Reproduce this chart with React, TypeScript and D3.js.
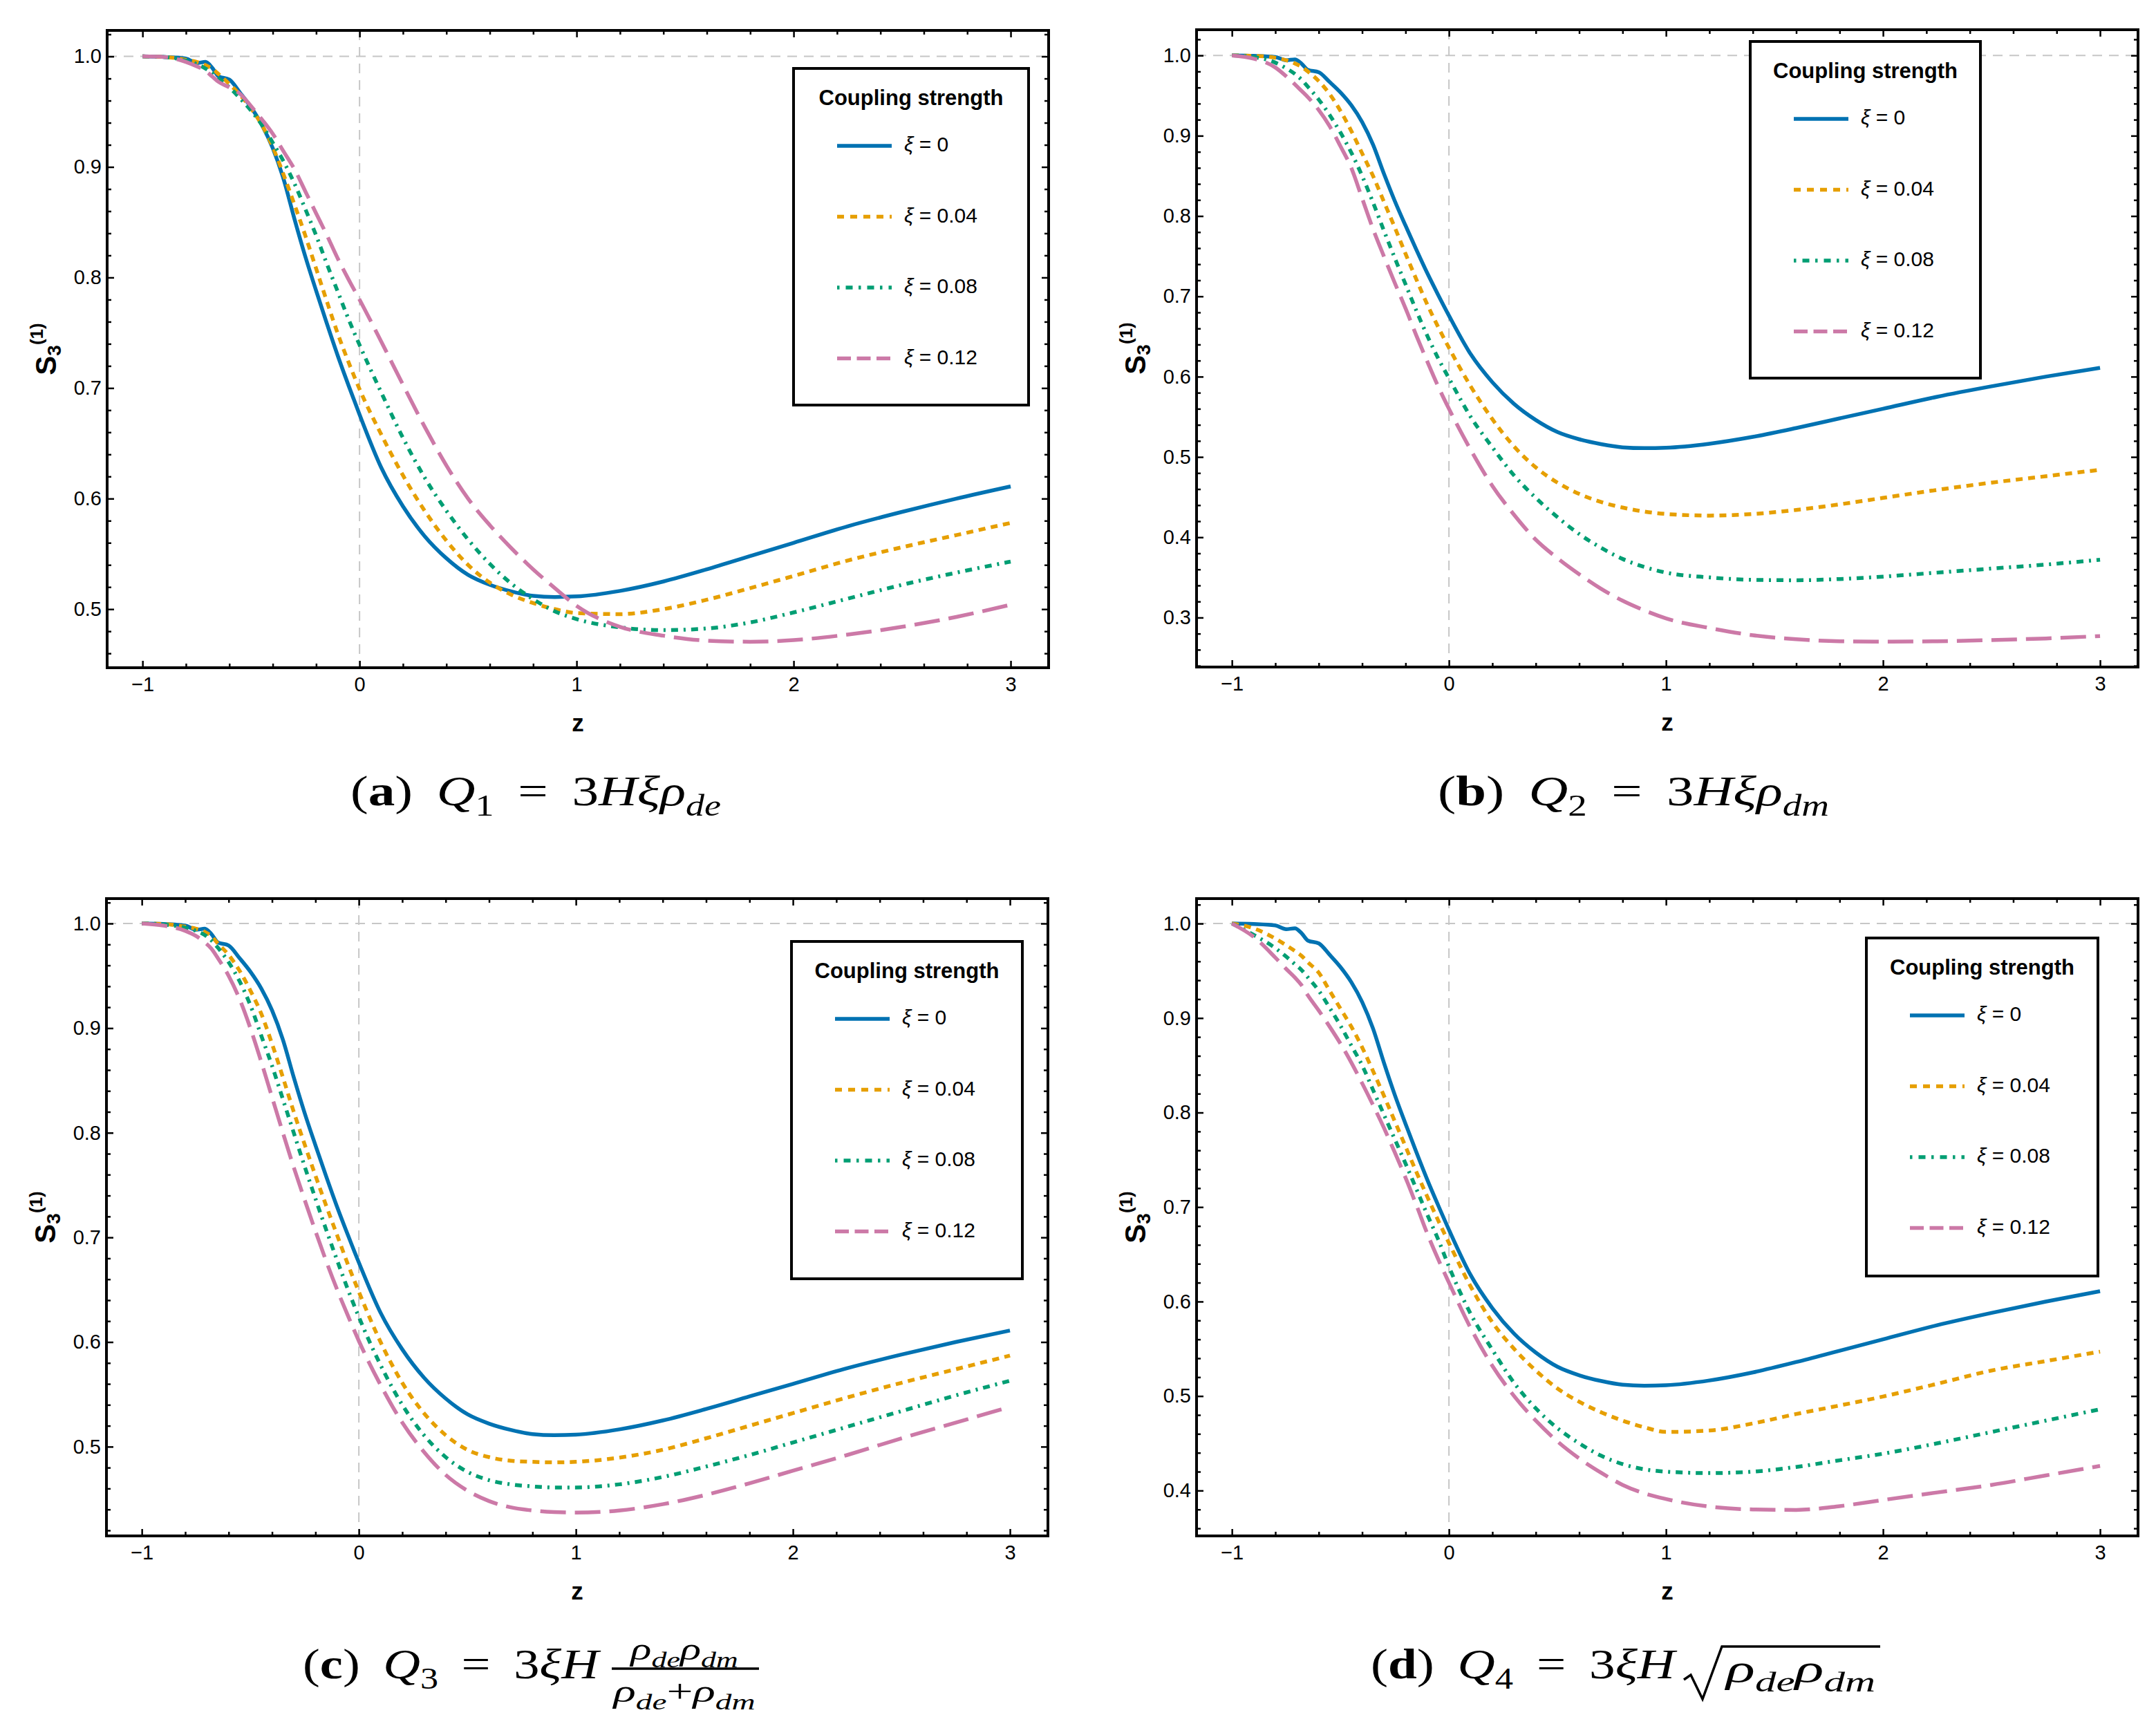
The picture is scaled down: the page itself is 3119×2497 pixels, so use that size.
import * as d3 from "d3";
import { useEffect, useRef } from "react";

// redshift samples shared by every curve
const zValues = [
  -1, -0.9, -0.8, -0.75, -0.71, -0.68, -0.65, -0.6, -0.55, -0.5,
  -0.45, -0.4, -0.35, -0.3, -0.25, -0.2, -0.15, -0.1, -0.05, 0,
  0.1, 0.2, 0.3, 0.4, 0.5, 0.6, 0.7, 0.8, 0.9, 1.0,
  1.2, 1.4, 1.6, 1.8, 2.0, 2.25, 2.5, 2.75, 3.0,
];

// xi = 0 (same in all four panels)
const s3Xi0 = [
  1.0, 0.9995, 0.998, 0.994, 0.995, 0.99, 0.982, 0.979, 0.967, 0.954,
  0.938, 0.917, 0.889, 0.853, 0.819, 0.788, 0.758, 0.729, 0.702, 0.676,
  0.628, 0.593, 0.566, 0.546, 0.531, 0.522, 0.516, 0.512, 0.511, 0.5115,
  0.5165, 0.525, 0.536, 0.548, 0.56, 0.575, 0.588, 0.6, 0.611,
];

// (a) Q1
const q1Xi004 = [
  1.0, 0.9995, 0.997, 0.995, 0.992, 0.989, 0.984, 0.975, 0.965, 0.953,
  0.938, 0.918, 0.893, 0.866, 0.838, 0.808, 0.778, 0.749, 0.723, 0.699,
  0.658, 0.621, 0.589, 0.562, 0.54, 0.524, 0.513, 0.5055, 0.5, 0.4965,
  0.4955, 0.5, 0.5085, 0.519, 0.53, 0.544, 0.556, 0.567, 0.578,
];
const q1Xi008 = [
  1.0, 0.9995, 0.996, 0.993, 0.989, 0.985, 0.98, 0.972, 0.962, 0.951,
  0.938, 0.922, 0.905, 0.885, 0.862, 0.838, 0.812, 0.787, 0.762, 0.739,
  0.696, 0.655, 0.619, 0.589, 0.563, 0.541, 0.523, 0.509, 0.498, 0.491,
  0.4835, 0.481, 0.4825, 0.488, 0.497, 0.5095, 0.522, 0.533, 0.543,
];
const q1Xi012 = [
  1.0, 0.9995, 0.995, 0.991, 0.987, 0.982, 0.977, 0.972, 0.966, 0.955,
  0.943, 0.93, 0.914, 0.898, 0.878, 0.858, 0.838, 0.817, 0.798, 0.78,
  0.742, 0.703, 0.665, 0.63, 0.6, 0.576, 0.555, 0.536, 0.519, 0.503,
  0.484, 0.476, 0.4715, 0.4705, 0.472, 0.477, 0.484, 0.493, 0.504,
];

// (b) Q2
const q2Xi004 = [
  1.0, 0.9995, 0.997, 0.994, 0.99, 0.986, 0.98, 0.968, 0.952, 0.931,
  0.906, 0.878, 0.85, 0.818, 0.786, 0.753, 0.721, 0.69, 0.662, 0.636,
  0.588, 0.547, 0.513, 0.487, 0.468, 0.454, 0.444, 0.437, 0.432, 0.429,
  0.427, 0.429, 0.434, 0.441, 0.449, 0.459, 0.468, 0.476, 0.484,
];
const q2Xi008 = [
  1.0, 0.998, 0.991, 0.984, 0.977, 0.97, 0.961, 0.945, 0.926, 0.904,
  0.879, 0.85, 0.817, 0.782, 0.748, 0.715, 0.682, 0.651, 0.623, 0.598,
  0.55, 0.512, 0.477, 0.449, 0.425, 0.404, 0.387, 0.373, 0.363, 0.356,
  0.35, 0.347, 0.3465, 0.348, 0.351, 0.356, 0.361, 0.366, 0.372,
];
const q2Xi012 = [
  1.0, 0.996, 0.985, 0.974, 0.964, 0.956, 0.948, 0.932, 0.912, 0.887,
  0.86, 0.822, 0.784, 0.75, 0.717, 0.685, 0.651, 0.619, 0.588, 0.56,
  0.509, 0.464, 0.428, 0.397, 0.374, 0.354, 0.336, 0.321, 0.309, 0.299,
  0.287, 0.278, 0.273, 0.2705, 0.27, 0.2705, 0.272, 0.274, 0.277,
];

// (c) Q3
const q3Xi004 = [
  1.0, 0.9995, 0.997, 0.995, 0.992, 0.988, 0.981, 0.97, 0.955, 0.936,
  0.914, 0.885, 0.853, 0.82, 0.789, 0.759, 0.73, 0.702, 0.674, 0.648,
  0.6, 0.561, 0.532, 0.511, 0.497, 0.49, 0.4865, 0.4855, 0.485, 0.4855,
  0.4895, 0.497, 0.508, 0.52, 0.532, 0.547, 0.561, 0.574, 0.587,
];
const q3Xi008 = [
  1.0, 0.999, 0.996, 0.993, 0.989, 0.984, 0.977, 0.963, 0.945, 0.922,
  0.893, 0.864, 0.832, 0.8, 0.768, 0.737, 0.707, 0.678, 0.65, 0.624,
  0.578, 0.54, 0.511, 0.49, 0.476, 0.468, 0.464, 0.462, 0.461, 0.461,
  0.464, 0.471, 0.481, 0.492, 0.504, 0.519, 0.534, 0.549, 0.563,
];
const q3Xi012 = [
  1.0, 0.998, 0.993, 0.988, 0.982, 0.976, 0.967, 0.95, 0.928, 0.9,
  0.868, 0.834, 0.8, 0.767, 0.736, 0.706, 0.677, 0.65, 0.625, 0.601,
  0.559, 0.523, 0.495, 0.473, 0.458, 0.448, 0.442, 0.439, 0.4375, 0.437,
  0.439, 0.445, 0.454, 0.465, 0.477, 0.492, 0.508, 0.523, 0.538,
];

// (d) Q4
const q4Xi004 = [
  1.0, 0.995, 0.984, 0.977, 0.971, 0.966, 0.959, 0.948, 0.929, 0.91,
  0.891, 0.869, 0.844, 0.818, 0.791, 0.764, 0.737, 0.711, 0.686, 0.662,
  0.616, 0.578, 0.55, 0.527, 0.508, 0.494, 0.483, 0.474, 0.467, 0.462,
  0.4635, 0.471, 0.481, 0.49, 0.4995, 0.513, 0.527, 0.537, 0.547,
];
const q4Xi008 = [
  1.0, 0.988, 0.974, 0.965, 0.957, 0.951, 0.943, 0.929, 0.911, 0.892,
  0.871, 0.85, 0.824, 0.798, 0.772, 0.746, 0.719, 0.692, 0.666, 0.637,
  0.587, 0.549, 0.514, 0.487, 0.466, 0.45, 0.437, 0.428, 0.4225, 0.42,
  0.4185, 0.42, 0.425, 0.432, 0.439, 0.45, 0.462, 0.474, 0.486,
];
const q4Xi012 = [
  1.0, 0.986, 0.964, 0.952, 0.943, 0.935, 0.924, 0.908, 0.891, 0.873,
  0.853, 0.831, 0.808, 0.784, 0.758, 0.731, 0.702, 0.672, 0.645, 0.62,
  0.572, 0.532, 0.5, 0.474, 0.452, 0.434, 0.419, 0.406, 0.397, 0.391,
  0.383, 0.38, 0.3795, 0.3835, 0.39, 0.398, 0.406, 0.416, 0.426,
];

const xiLabels = ["0", "0.04", "0.08", "0.12"];
const xTicks = [-1, 0, 1, 2, 3];
const yTicksQ1 = [0.5, 0.6, 0.7, 0.8, 0.9, 1.0];
const yTicksQ2 = [0.3, 0.4, 0.5, 0.6, 0.7, 0.8, 0.9, 1.0];
const yTicksQ3 = [0.5, 0.6, 0.7, 0.8, 0.9, 1.0];
const yTicksQ4 = [0.4, 0.5, 0.6, 0.7, 0.8, 0.9, 1.0];

const COLORS = ["#0072b2", "#e69f00", "#009e73", "#cc79a7"];
const PLOT_DASH = ["none", "10 8", "10 8 3 8", "37 13"];
const LEGEND_DASH = ["none", "10 9", "3.5 9 10 8.5", "20 8.5"];

const SANS = "'Liberation Sans', Arial, Helvetica, sans-serif";
const SERIF = "'Liberation Serif', 'Times New Roman', serif";

const WIDTH = 3119;
const HEIGHT = 2497;
const PW = 1362;
const PH = 922;
const X_DOMAIN: [number, number] = [-1.163, 3.175];

type Panel = {
  left: number;
  top: number;
  yDomain: [number, number];
  yTicks: number[];
  series: number[][];
  legend: { x: number; y: number; w: number; h: number };
};

const panels: Panel[] = [
  {
    left: 155, top: 44, yDomain: [0.447, 1.0235], yTicks: yTicksQ1,
    series: [s3Xi0, q1Xi004, q1Xi008, q1Xi012],
    legend: { x: 993, y: 55, w: 340, h: 487 },
  },
  {
    left: 1731, top: 43, yDomain: [0.2384, 1.032], yTicks: yTicksQ2,
    series: [s3Xi0, q2Xi004, q2Xi008, q2Xi012],
    legend: { x: 801, y: 17, w: 333, h: 487 },
  },
  {
    left: 154, top: 1300, yDomain: [0.4147, 1.0238], yTicks: yTicksQ3,
    series: [s3Xi0, q3Xi004, q3Xi008, q3Xi012],
    legend: { x: 991, y: 62, w: 334, h: 488 },
  },
  {
    left: 1731, top: 1300, yDomain: [0.352, 1.0264], yTicks: yTicksQ4,
    series: [s3Xi0, q4Xi004, q4Xi008, q4Xi012],
    legend: { x: 969, y: 57, w: 335, h: 489 },
  },
];

type Sel = d3.Selection<any, unknown, null, undefined>;

const styleAxis = (sel: Sel) => {
  sel.select(".domain").remove();
  sel.selectAll("line").attr("stroke", "#000").attr("stroke-width", 2.5);
  sel.attr("font-family", SANS).attr("font-size", 29);
  sel.selectAll("text").attr("fill", "#000");
};

const fmtX = (d: d3.NumberValue) => {
  const v = +d;
  return v < 0 ? `\u2212${Math.abs(v)}` : `${v}`;
};

function drawPanel(svg: Sel, p: Panel) {
  const x = d3.scaleLinear().domain(X_DOMAIN).range([0, PW]);
  const y = d3.scaleLinear().domain(p.yDomain).range([PH, 0]);
  const g = svg.append("g").attr("transform", `translate(${p.left},${p.top})`);

  // dashed reference lines at s=1 and z=0
  g.append("line")
    .attr("x1", 0).attr("x2", PW).attr("y1", y(1)).attr("y2", y(1))
    .attr("stroke", "#c6c6c6").attr("stroke-width", 2).attr("stroke-dasharray", "14 10");
  g.append("line")
    .attr("x1", x(0)).attr("x2", x(0)).attr("y1", 0).attr("y2", PH)
    .attr("stroke", "#c6c6c6").attr("stroke-width", 2).attr("stroke-dasharray", "14 10");

  const line = d3
    .line<number>()
    .x((_, i) => x(zValues[i]))
    .y((d) => y(d))
    .curve(d3.curveMonotoneX);

  p.series.forEach((vals, i) => {
    g.append("path")
      .attr("d", line(vals))
      .attr("fill", "none")
      .attr("stroke", COLORS[i])
      .attr("stroke-width", 5.5)
      .attr("stroke-dasharray", PLOT_DASH[i]);
  });

  // ticks, inward on all four sides
  const xMinor = d3.range(-5, 16).filter((i) => i % 5 !== 0).map((i) => i / 5);
  const [y0, y1] = p.yDomain;
  const yMinor = d3
    .range(Math.ceil(y0 * 50), Math.floor(y1 * 50) + 1)
    .filter((i) => i % 5 !== 0)
    .map((i) => i / 50);

  g.append("g").attr("transform", `translate(0,${PH})`)
    .call(d3.axisBottom(x).tickValues(xTicks).tickSize(-10).tickPadding(13).tickFormat(fmtX))
    .call(styleAxis);
  g.append("g").attr("transform", `translate(0,${PH})`)
    .call(d3.axisBottom(x).tickValues(xMinor).tickSize(-6).tickFormat(() => ""))
    .call(styleAxis);
  g.append("g")
    .call(d3.axisTop(x).tickValues(xTicks).tickSize(-10).tickFormat(() => ""))
    .call(styleAxis);
  g.append("g")
    .call(d3.axisTop(x).tickValues(xMinor).tickSize(-6).tickFormat(() => ""))
    .call(styleAxis);

  g.append("g")
    .call(d3.axisLeft(y).tickValues(p.yTicks).tickSize(-10).tickPadding(8).tickFormat(d3.format(".1f")))
    .call(styleAxis);
  g.append("g")
    .call(d3.axisLeft(y).tickValues(yMinor).tickSize(-6).tickFormat(() => ""))
    .call(styleAxis);
  g.append("g").attr("transform", `translate(${PW},0)`)
    .call(d3.axisRight(y).tickValues(p.yTicks).tickSize(-10).tickFormat(() => ""))
    .call(styleAxis);
  g.append("g").attr("transform", `translate(${PW},0)`)
    .call(d3.axisRight(y).tickValues(yMinor).tickSize(-6).tickFormat(() => ""))
    .call(styleAxis);

  g.append("rect")
    .attr("width", PW).attr("height", PH)
    .attr("fill", "none").attr("stroke", "#000").attr("stroke-width", 4);

  // axis titles
  g.append("text")
    .attr("x", PW / 2).attr("y", PH + 92)
    .attr("text-anchor", "middle")
    .attr("font-family", SANS).attr("font-weight", "bold").attr("font-size", 35)
    .text("z");

  const yl = g.append("text")
    .attr("transform", `translate(-74,${PH / 2}) rotate(-90)`)
    .attr("text-anchor", "middle")
    .attr("font-family", SANS).attr("font-weight", "bold");
  yl.append("tspan").attr("font-size", 42).text("S");
  yl.append("tspan").attr("font-size", 28).attr("dy", 7).text("3");
  yl.append("tspan").attr("font-size", 26).attr("dy", -26).text("(1)");

  // legend
  const lg = g.append("g").attr("transform", `translate(${p.legend.x},${p.legend.y})`);
  lg.append("rect")
    .attr("width", p.legend.w).attr("height", p.legend.h)
    .attr("fill", "#fff").attr("stroke", "#000").attr("stroke-width", 4);
  lg.append("text")
    .attr("x", p.legend.w / 2).attr("y", 53)
    .attr("text-anchor", "middle")
    .attr("font-family", SANS).attr("font-weight", "bold").attr("font-size", 31)
    .text("Coupling strength");
  xiLabels.forEach((lab, i) => {
    const yy = 112 + i * 102.5;
    lg.append("line")
      .attr("x1", 63).attr("x2", 142).attr("y1", yy).attr("y2", yy)
      .attr("stroke", COLORS[i]).attr("stroke-width", 5.5)
      .attr("stroke-dasharray", LEGEND_DASH[i]);
    const t = lg.append("text")
      .attr("x", 160).attr("y", yy + 8)
      .attr("font-family", SANS).attr("font-size", 30)
      .style("white-space", "pre");
    t.append("tspan").attr("font-style", "italic").text("\u03be");
    t.append("tspan").text(` = ${lab}`);
  });
}

// [text, flags] : b bold, i italic, s subscript
type Piece = [string, string];

// typeset a formula, then stretch it horizontally to the width it has in the figure
function mathText(
  svg: Sel, x: number, y: number, anchor: string, width: number, fs: number, pieces: Piece[],
) {
  const wrap = svg.append("g");
  const t = wrap.append("text")
    .attr("x", 0).attr("y", 0)
    .attr("text-anchor", anchor)
    .attr("font-family", SERIF).attr("font-size", fs)
    .style("white-space", "pre");
  let shift = 0;
  pieces.forEach(([txt, f]) => {
    const sub = f.includes("s");
    const target = sub ? fs * 0.24 : 0;
    t.append("tspan")
      .attr("dy", target - shift)
      .attr("font-size", sub ? fs * 0.7 : fs)
      .attr("font-style", f.includes("i") ? "italic" : "normal")
      .attr("font-weight", f.includes("b") ? "bold" : "normal")
      .text(txt);
    shift = target;
  });
  const natural = (t.node() as SVGTextElement).getBBox().width || width;
  const sx = width / natural;
  wrap.attr("transform", `translate(${x},${y}) scale(${sx},1)`);
}

const EQ = " \u2009=\u2009 3";
const GAP = ") \u2009";

function drawCaptions(svg: Sel) {
  mathText(svg, 507, 1165, "start", 536, 62, [
    ["(", ""], ["a", "b"], [GAP, ""], ["Q", "i"], ["1", "s"], [EQ, ""], ["H\u03be\u03c1", "i"], ["de", "is"],
  ]);
  mathText(svg, 2080, 1165, "start", 566, 62, [
    ["(", ""], ["b", "b"], [GAP, ""], ["Q", "i"], ["2", "s"], [EQ, ""], ["H\u03be\u03c1", "i"], ["dm", "is"],
  ]);

  // (c) fraction
  mathText(svg, 438, 2428, "start", 432, 62, [
    ["(", ""], ["c", "b"], [GAP, ""], ["Q", "i"], ["3", "s"], [EQ, ""], ["\u03beH", "i"],
  ]);
  mathText(svg, 990, 2401, "middle", 158, 46, [
    ["\u03c1", "i"], ["de", "is"], ["\u03c1", "i"], ["dm", "is"],
  ]);
  svg.append("line")
    .attr("x1", 885).attr("x2", 1098).attr("y1", 2414).attr("y2", 2414)
    .attr("stroke", "#000").attr("stroke-width", 3.5);
  mathText(svg, 990, 2462, "middle", 208, 46, [
    ["\u03c1", "i"], ["de", "is"], ["+", ""], ["\u03c1", "i"], ["dm", "is"],
  ]);

  // (d) square root
  mathText(svg, 1983, 2428, "start", 444, 62, [
    ["(", ""], ["d", "b"], [GAP, ""], ["Q", "i"], ["4", "s"], [EQ, ""], ["\u03beH", "i"],
  ]);
  svg.append("path")
    .attr("d", "M2436,2430 L2446,2423 L2463,2458 L2491,2382 L2720,2382")
    .attr("fill", "none").attr("stroke", "#000").attr("stroke-width", 3.5)
    .attr("stroke-linejoin", "miter");
  mathText(svg, 2497, 2433, "start", 219, 58, [
    ["\u03c1", "i"], ["de", "is"], ["\u03c1", "i"], ["dm", "is"],
  ]);
}

export default function App() {
  const ref = useRef<SVGSVGElement>(null);

  useEffect(() => {
    if (!ref.current) return;
    const svg = d3.select(ref.current) as unknown as Sel;
    svg.selectAll("*").remove();
    svg.append("rect").attr("width", WIDTH).attr("height", HEIGHT).attr("fill", "#fff");
    panels.forEach((p) => drawPanel(svg, p));
    drawCaptions(svg);
  }, []);

  return (
    <svg
      ref={ref}
      width={WIDTH}
      height={HEIGHT}
      style={{ position: "absolute", left: 0, top: 0 }}
    />
  );
}
